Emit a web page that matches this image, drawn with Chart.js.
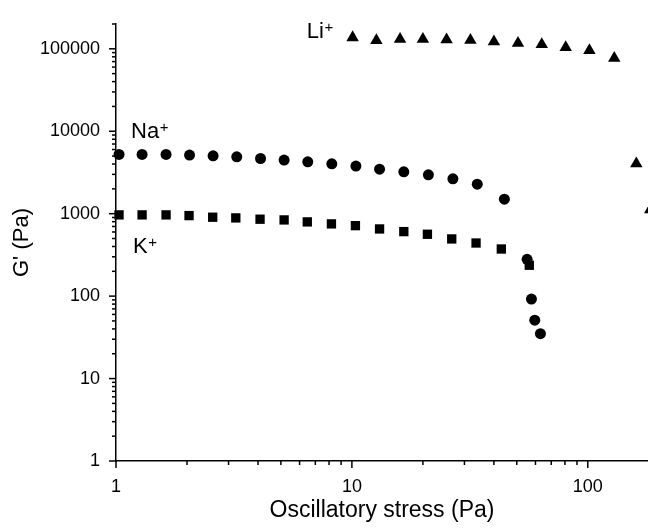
<!DOCTYPE html>
<html>
<head>
<meta charset="utf-8">
<script src="https://cdn.jsdelivr.net/npm/chart.js@4"></script>
<style>
  body { margin: 0; background: #fff; }
  #wrap { width: 648px; height: 529px; }
</style>
</head>
<body>
<div id="wrap"><canvas id="grafico"></canvas></div>
<script>
// storage modulus G' against oscillatory stress, one series per counter-ion
var stressNa = [1.03, 1.29, 1.63, 2.05, 2.58, 3.25, 4.10, 5.16, 6.50, 8.22, 10.4, 13.1, 16.6, 21.1, 26.8, 34.0, 44.3, 55.3, 57.7, 59.6, 63.0];
var gNa = [5230, 5230, 5230, 5140, 5040, 4900, 4670, 4470, 4260, 4030, 3780, 3470, 3220, 2960, 2650, 2280, 1500, 280, 92, 51, 35];

var stressK = [1.03, 1.29, 1.63, 2.04, 2.57, 3.22, 4.08, 5.16, 6.47, 8.19, 10.35, 13.1, 16.6, 20.9, 26.5, 33.6, 43.0, 56.5];
var gK = [967, 967, 967, 948, 906, 889, 857, 840, 795, 752, 716, 653, 606, 563, 494, 441, 373, 237];

var stressLi = [10.07, 12.7, 16.0, 20.0, 25.2, 31.8, 40.0, 50.6, 63.8, 80.6, 101.6, 129.5, 160.6, 184];
var gLi = [137000, 126500, 131000, 131000, 129000, 127500, 122000, 117000, 113000, 104000, 95500, 77000, 4050, 1120];

var xTickLabels = ['1', '10', '100'];
var yTickLabels = ['1', '10', '100', '1000', '10000', '100000'];

var FONT = "'Liberation Sans', Arial, sans-serif";
Chart.defaults.font.family = FONT;
Chart.defaults.color = '#000';

function toPoints(xs, ys) {
    var punti = [];
    for (var i = 0; i < xs.length; i++) {
        punti.push({ x: xs[i], y: ys[i] });
    }
    return punti;
}

// 1..9 x 10^k inside [min, max]
function logTicks(min, max) {
    var out = [];
    for (var e = Math.floor(Math.log10(min)); e <= Math.ceil(Math.log10(max)); e++) {
        for (var m = 1; m <= 9; m++) {
            var v = m * Math.pow(10, e);
            if (v >= min - 1e-9 && v <= max + 1e-9) out.push({ value: v });
        }
    }
    return out;
}

function decade(v) {
    var l = Math.log10(v);
    return Math.abs(l - Math.round(l)) < 1e-9 ? Math.round(l) : -1;
}

// long ticks on decades, short ones in between, pointing outwards
var tickMarks = {
    id: 'tickMarks',
    afterDraw: function (chart) {
        var ctx = chart.ctx;
        var sx = chart.scales.x, sy = chart.scales.y;
        ctx.save();
        ctx.strokeStyle = '#000';
        ctx.lineWidth = 1.5;
        sx.ticks.forEach(function (t) {
            var len = decade(t.value) >= 0 ? 7 : 4;
            var px = sx.getPixelForValue(t.value);
            ctx.beginPath();
            ctx.moveTo(px, sx.top);
            ctx.lineTo(px, sx.top + len);
            ctx.stroke();
        });
        sy.ticks.forEach(function (t) {
            var len = decade(t.value) >= 0 ? 7 : 4;
            var py = sy.getPixelForValue(t.value);
            ctx.beginPath();
            ctx.moveTo(sy.right, py);
            ctx.lineTo(sy.right - len, py);
            ctx.stroke();
        });
        ctx.restore();
    }
};

// series names written next to the curves, with a superscript charge
var ionLabels = {
    id: 'ionLabels',
    afterDatasetsDraw: function (chart, args, opts) {
        var ctx = chart.ctx;
        var sx = chart.scales.x, sy = chart.scales.y;
        ctx.save();
        ctx.fillStyle = '#000';
        ctx.textBaseline = 'alphabetic';
        ctx.textAlign = 'left';
        opts.items.forEach(function (it) {
            var px = sx.getPixelForValue(it.x);
            var py = sy.getPixelForValue(it.y);
            ctx.font = '22px ' + FONT;
            ctx.fillText(it.text, px, py);
            var w = ctx.measureText(it.text).width;
            ctx.font = '15px ' + FONT;
            ctx.fillText(it.sup, px + w + 0.5, py - 6);
        });
        ctx.restore();
    }
};

var ctx = document.getElementById('grafico');
var chart = new Chart(ctx, {
    type: 'scatter',
    data: {
        datasets: [{
            label: 'Li+',
            data: toPoints(stressLi, gLi),
            pointStyle: 'triangle',
            pointRadius: 7.2,
            backgroundColor: '#000',
            borderColor: '#000',
            pointBorderWidth: 0,
            clip: false
        }, {
            label: 'Na+',
            data: toPoints(stressNa, gNa),
            pointStyle: 'circle',
            pointRadius: 5.5,
            backgroundColor: '#000',
            borderColor: '#000',
            pointBorderWidth: 0,
            clip: false
        }, {
            label: 'K+',
            data: toPoints(stressK, gK),
            pointStyle: 'rect',
            pointRadius: 6.6,
            backgroundColor: '#000',
            borderColor: '#000',
            pointBorderWidth: 0,
            clip: false
        }]
    },
    options: {
        responsive: true,
        maintainAspectRatio: false,
        animation: false,
        layout: {
            autoPadding: false,
            padding: { top: 24, right: 0, left: 0, bottom: 0 }
        },
        plugins: {
            legend: { display: false },
            tooltip: { enabled: false },
            ionLabels: {
                items: [
                    { text: 'Li', sup: '+', x: 6.44, y: 136800 },
                    { text: 'Na', sup: '+', x: 1.158, y: 8340 },
                    { text: 'K', sup: '+', x: 1.181, y: 334 }
                ]
            }
        },
        scales: {
            x: {
                type: 'logarithmic',
                min: 1,
                max: 180,
                afterBuildTicks: function (s) { s.ticks = logTicks(1, 180); },
                afterFit: function (s) {
                    s.height = 68;
                    s.paddingLeft = 0;
                    s.paddingRight = 0;
                },
                grid: { display: false, drawTicks: true, tickLength: 7 },
                border: { display: true, color: '#000', width: 1.5 },
                ticks: {
                    autoSkip: false,
                    maxRotation: 0,
                    padding: 8,
                    font: { size: 18 },
                    callback: function (v) {
                        var k = decade(v);
                        return k >= 0 && xTickLabels[k] !== undefined ? xTickLabels[k] : '';
                    }
                },
                title: {
                    display: true,
                    text: 'Oscillatory stress (Pa)',
                    font: { size: 23 },
                    padding: { top: 5, bottom: 5 }
                }
            },
            y: {
                type: 'logarithmic',
                min: 1,
                max: 200000,
                afterBuildTicks: function (s) { s.ticks = logTicks(1, 200000); },
                afterFit: function (s) {
                    s.width = 116;
                    s.paddingTop = 0;
                    s.paddingBottom = 0;
                },
                grid: { display: false, drawTicks: true, tickLength: 7 },
                border: { display: true, color: '#000', width: 1.5 },
                ticks: {
                    autoSkip: false,
                    padding: 9,
                    font: { size: 18 },
                    callback: function (v) {
                        var k = decade(v);
                        return k >= 0 && yTickLabels[k] !== undefined ? yTickLabels[k] : '';
                    }
                },
                title: {
                    display: true,
                    text: "G' (Pa)",
                    font: { size: 22 },
                    padding: { top: 9, bottom: 9 }
                }
            }
        }
    },
    plugins: [tickMarks, ionLabels]
});
</script>
</body>
</html>
